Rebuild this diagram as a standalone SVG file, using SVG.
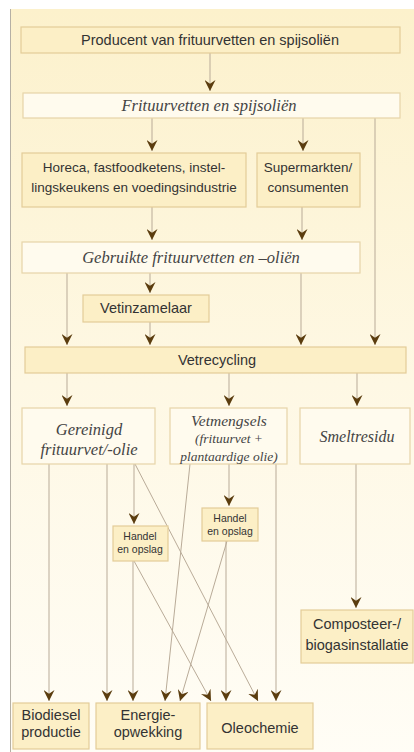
<svg xmlns="http://www.w3.org/2000/svg" width="414" height="752" viewBox="0 0 414 752">
<defs>
<linearGradient id="bg" x1="0" y1="0" x2="0" y2="1">
<stop offset="0" stop-color="#fcf1cc"/>
<stop offset="0.5" stop-color="#fef8e4"/>
<stop offset="1" stop-color="#fffdf6"/>
</linearGradient>
<marker id="arr" viewBox="0 0 10 10" refX="10" refY="5" markerWidth="11" markerHeight="11" markerUnits="userSpaceOnUse" orient="auto">
<path d="M0,0 L10,5 L0,10 L3.5,5 Z" fill="#5b3d0f"/>
</marker>
<style>
.dk{fill:#fcefc6;stroke:#e3cc98;stroke-width:1.2}
.lt{fill:#fffbee;stroke:#e6d4a8;stroke-width:1.2}
.s{font-family:"Liberation Sans",Arial,sans-serif;fill:#333;text-anchor:middle}
.i{font-family:"Liberation Serif","Times New Roman",serif;font-style:italic;fill:#444;text-anchor:middle}
#connectors line{stroke:#b9ab98;stroke-width:1;fill:none;marker-end:url(#arr)}
</style>
</defs>
<rect x="10" y="9" width="410" height="750" fill="url(#bg)"/>
<line x1="10.5" y1="9" x2="10.5" y2="752" stroke="#b5b0a5" stroke-width="1"/>

<g id="connectors">
<line x1="210" y1="53" x2="210" y2="91"/>
<line x1="152" y1="118" x2="152" y2="151"/>
<line x1="303" y1="118" x2="303" y2="151"/>
<line x1="375" y1="118" x2="375" y2="345"/>
<line x1="152" y1="207" x2="152" y2="240"/>
<line x1="302" y1="207" x2="302" y2="240"/>
<line x1="67" y1="273" x2="67" y2="345"/>
<line x1="150" y1="273" x2="150" y2="293"/>
<line x1="150" y1="322" x2="150" y2="345"/>
<line x1="301" y1="273" x2="301" y2="345"/>
<line x1="67" y1="373" x2="67" y2="406"/>
<line x1="229" y1="373" x2="229" y2="406"/>
<line x1="357" y1="373" x2="357" y2="406"/>
<line x1="49" y1="464" x2="49" y2="701"/>
<line x1="107" y1="464" x2="107" y2="701"/>
<line x1="134" y1="464" x2="134" y2="524"/>
<line x1="135" y1="464" x2="258" y2="701"/>
<line x1="133" y1="561" x2="133" y2="701"/>
<line x1="134" y1="561" x2="211" y2="701"/>
<line x1="190" y1="464" x2="165" y2="701"/>
<line x1="229" y1="464" x2="229" y2="506"/>
<line x1="227" y1="541" x2="180" y2="701"/>
<line x1="226" y1="541" x2="226" y2="701"/>
<line x1="276" y1="464" x2="276" y2="701"/>
<line x1="356" y1="464" x2="356" y2="608"/>
</g>

<g id="producent"><rect class="dk" x="21" y="27" width="379" height="26"/><text class="s" x="210" y="45" font-size="14.5">Producent van frituurvetten en spijsoliën</text></g>
<g id="frituurvetten"><rect class="lt" x="23" y="93" width="377" height="25"/><text class="i" x="209" y="111" font-size="16.5">Frituurvetten en spijsoliën</text></g>
<g id="horeca"><rect class="dk" x="22" y="153" width="224" height="54"/><text class="s" x="134" y="172" font-size="13.5">Horeca, fastfoodketens, instel-</text><text class="s" x="134" y="192" font-size="13.5">lingskeukens en voedingsindustrie</text></g>
<g id="supermarkten"><rect class="dk" x="257" y="153" width="103" height="54"/><text class="s" x="308" y="172" font-size="13.5">Supermarkten/</text><text class="s" x="308" y="192" font-size="13.5">consumenten</text></g>
<g id="gebruikte"><rect class="lt" x="22" y="242" width="338" height="31"/><text class="i" x="191" y="263" font-size="16.5">Gebruikte frituurvetten en –oliën</text></g>
<g id="vetinzamelaar"><rect class="dk" x="83" y="295" width="126" height="27"/><text class="s" x="146" y="313" font-size="14.5">Vetinzamelaar</text></g>
<g id="vetrecycling"><rect class="dk" x="25" y="347" width="381" height="26"/><text class="s" x="217" y="365" font-size="14.5">Vetrecycling</text></g>
<g id="gereinigd"><rect class="lt" x="22" y="408" width="133" height="56"/><text class="i" x="89" y="435" font-size="16.5">Gereinigd</text><text class="i" x="89" y="455" font-size="16.5">frituurvet/-olie</text></g>
<g id="vetmengsels"><rect class="lt" x="170" y="408" width="117" height="56"/><text class="i" x="229" y="426" font-size="15.5">Vetmengsels</text><text class="i" x="229" y="443" font-size="13.5">(frituurvet +</text><text class="i" x="229" y="461" font-size="13.5">plantaardige olie)</text></g>
<g id="smeltresidu"><rect class="lt" x="300" y="408" width="110" height="56"/><text class="i" x="357" y="442" font-size="16">Smeltresidu</text></g>
<g id="handel1"><rect class="dk" x="113" y="526" width="55" height="35"/><text class="s" x="140" y="540" font-size="10.5">Handel</text><text class="s" x="140" y="553" font-size="10.5">en opslag</text></g>
<g id="handel2"><rect class="dk" x="202" y="508" width="56" height="33"/><text class="s" x="230" y="522" font-size="10.5">Handel</text><text class="s" x="230" y="535" font-size="10.5">en opslag</text></g>
<g id="composteer"><rect class="dk" x="301" y="610" width="112" height="53"/><text class="s" x="357" y="629" font-size="14.5">Composteer-/</text><text class="s" x="357" y="650" font-size="14.5">biogasinstallatie</text></g>
<g id="biodiesel"><rect class="dk" x="13" y="703" width="76" height="46"/><text class="s" x="51" y="720" font-size="14.5">Biodiesel</text><text class="s" x="51" y="737" font-size="14.5">productie</text></g>
<g id="energie"><rect class="dk" x="96" y="703" width="104" height="46"/><text class="s" x="148" y="720" font-size="14.5">Energie-</text><text class="s" x="148" y="737" font-size="14.5">opwekking</text></g>
<g id="oleochemie"><rect class="dk" x="207" y="703" width="106" height="46"/><text class="s" x="260" y="733" font-size="14.5">Oleochemie</text></g>
</svg>
